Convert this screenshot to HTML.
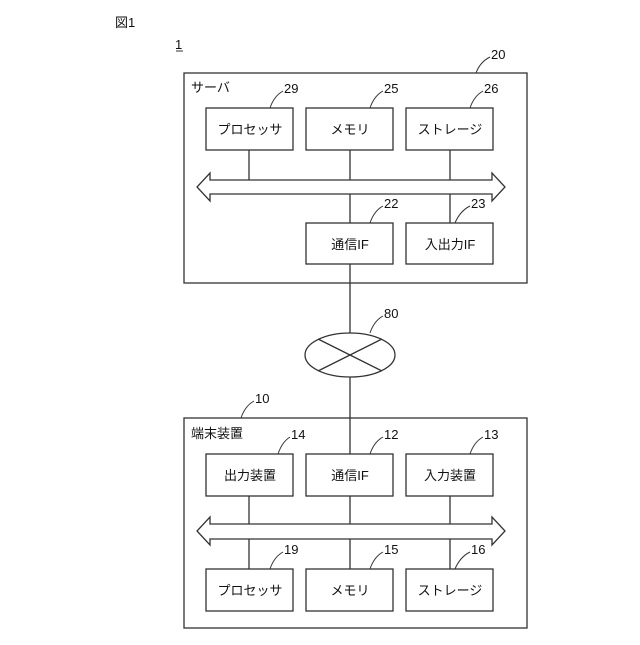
<!DOCTYPE html>
<html><head><meta charset="utf-8"><style>
body{margin:0;background:#fff}
svg text{font-family:"Liberation Sans","Noto Sans CJK JP",sans-serif;fill:#111}
</style></head><body>
<svg width="640" height="640" viewBox="0 0 640 640" xmlns="http://www.w3.org/2000/svg">
<g fill="none" stroke="#333" stroke-width="1.3">
<rect x="184" y="73" width="343" height="210" fill="#fff"/>
<rect x="206" y="108" width="87" height="42"/>
<rect x="306" y="108" width="87" height="42"/>
<rect x="406" y="108" width="87" height="42"/>
<rect x="306" y="223" width="87" height="41"/>
<rect x="406" y="223" width="87" height="41"/>
<line x1="249" y1="150" x2="249" y2="180"/>
<line x1="350" y1="150" x2="350" y2="180"/>
<line x1="450" y1="150" x2="450" y2="180"/>
<line x1="350" y1="194" x2="350" y2="223"/>
<line x1="450" y1="194" x2="450" y2="223"/>
<path d="M210 180 L492 180 L492 173 L505 187 L492 201 L492 194 L210 194 L210 201 L197 187 L210 173 Z"/>
<line x1="350" y1="264" x2="350" y2="333"/>
<ellipse cx="350" cy="355" rx="45" ry="22"/>
<line x1="318" y1="339" x2="382" y2="371"/>
<line x1="318" y1="371" x2="382" y2="339"/>
<line x1="350" y1="377" x2="350" y2="454"/>
<rect x="184" y="418" width="343" height="210"/>
<rect x="206" y="454" width="87" height="42"/>
<rect x="306" y="454" width="87" height="42"/>
<rect x="406" y="454" width="87" height="42"/>
<rect x="206" y="569" width="87" height="42"/>
<rect x="306" y="569" width="87" height="42"/>
<rect x="406" y="569" width="87" height="42"/>
<line x1="249" y1="496" x2="249" y2="524"/>
<line x1="350" y1="496" x2="350" y2="524"/>
<line x1="450" y1="496" x2="450" y2="524"/>
<line x1="249" y1="539" x2="249" y2="569"/>
<line x1="350" y1="539" x2="350" y2="569"/>
<line x1="450" y1="539" x2="450" y2="569"/>
<path d="M210 524 L492 524 L492 517 L505 531 L492 545 L492 539 L210 539 L210 545 L197 531 L210 517 Z"/>
<g stroke-width="1">
<path d="M476 73 Q480 62 490 57"/>
<path d="M270 108 Q274 96 283 91"/>
<path d="M370 108 Q374 96 383 91"/>
<path d="M470 108 Q474 96 483 91"/>
<path d="M370 223 Q374 211 383 206"/>
<path d="M455 223 Q460 211 470 206"/>
<path d="M370 333 Q374 321 383 316"/>
<path d="M241 418 Q245 406 254 401"/>
<path d="M278 454 Q282 442 290 437"/>
<path d="M370 454 Q374 442 383 437"/>
<path d="M470 454 Q474 442 483 437"/>
<path d="M270 569 Q274 557 283 552"/>
<path d="M370 569 Q374 557 383 552"/>
<path d="M455 569 Q460 557 470 552"/>
<line x1="176" y1="51" x2="183" y2="51"/>
</g>
</g>
<g font-size="13">
<text x="115" y="27">図1</text>
<text x="175" y="49">1</text>
<text x="491" y="59">20</text>
<text x="191" y="92">サーバ</text>
<text x="284" y="93">29</text><text x="384" y="93">25</text><text x="484" y="93">26</text>
<text x="384" y="208">22</text><text x="471" y="208">23</text>
<text x="384" y="318">80</text>
<text x="255" y="403">10</text>
<text x="191" y="438">端末装置</text>
<text x="291" y="439">14</text><text x="384" y="439">12</text><text x="484" y="439">13</text>
<text x="284" y="554">19</text><text x="384" y="554">15</text><text x="471" y="554">16</text>
</g>
<g font-size="13" text-anchor="middle">
<text x="250" y="134">プロセッサ</text>
<text x="350" y="134">メモリ</text>
<text x="450" y="134">ストレージ</text>
<text x="350" y="249">通信IF</text>
<text x="450" y="249">入出力IF</text>
<text x="250" y="480">出力装置</text>
<text x="350" y="480">通信IF</text>
<text x="450" y="480">入力装置</text>
<text x="250" y="595">プロセッサ</text>
<text x="350" y="595">メモリ</text>
<text x="450" y="595">ストレージ</text>
</g>
</svg>
</body></html>
